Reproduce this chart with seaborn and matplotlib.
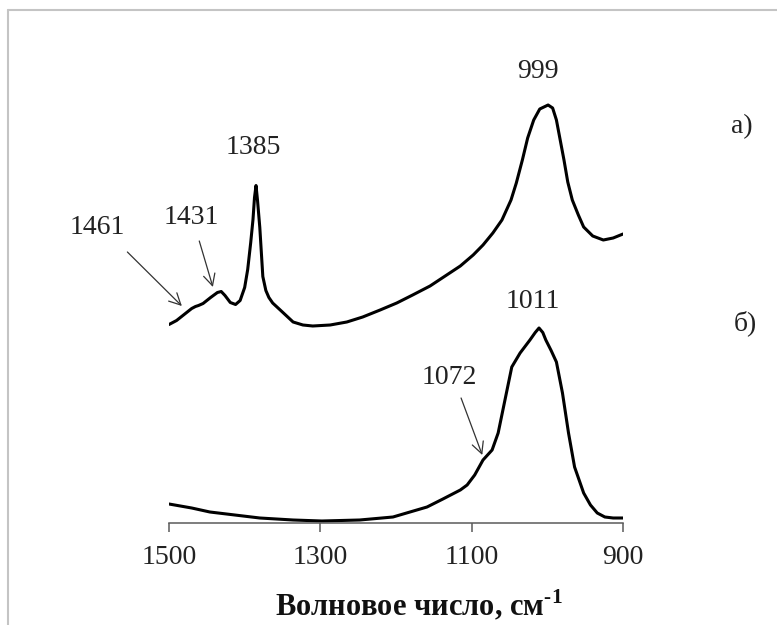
import matplotlib
matplotlib.use("Agg")
import matplotlib.pyplot as plt
from matplotlib.lines import Line2D
import seaborn as sns
import pandas as pd

# IR spectrum a) (wavenumber, cm-1 / absorbance, a.u.)
wavenumber_a = [1500, 1490, 1480, 1470, 1465, 1461, 1455, 1445, 1436, 1431,
                1426, 1419, 1412, 1406, 1400, 1396, 1392, 1389, 1387, 1385,
                1383, 1380, 1376, 1372, 1368, 1363, 1353, 1336, 1323, 1310,
                1287, 1265, 1244, 1221, 1199, 1178, 1155, 1133, 1115, 1098,
                1085, 1072, 1060, 1048, 1041, 1033, 1026, 1018, 1010, 999,
                993, 988, 983, 978, 973, 967, 959, 952, 940, 926,
                913, 900]
absorbance_a = [1.98, 2.02, 2.08, 2.14, 2.16, 2.17, 2.19, 2.25, 2.30, 2.31,
                2.27, 2.20, 2.18, 2.22, 2.35, 2.53, 2.80, 3.03, 3.25, 3.37,
                3.22, 2.95, 2.46, 2.32, 2.25, 2.195, 2.125, 2.005, 1.975, 1.965,
                1.975, 2.005, 2.055, 2.125, 2.195, 2.275, 2.365, 2.475, 2.565, 2.675,
                2.775, 2.895, 3.025, 3.225, 3.395, 3.625, 3.845, 4.025, 4.135, 4.175,
                4.145, 4.025, 3.825, 3.625, 3.405, 3.225, 3.075, 2.955, 2.865, 2.825,
                2.845, 2.885]

# IR spectrum б)
wavenumber_b = [1500, 1470, 1446, 1380, 1336, 1298, 1248, 1204, 1159, 1138,
                1115, 1106, 1096, 1085, 1073, 1065, 1056, 1047, 1036, 1023,
                1016, 1011, 1006, 1002, 995, 988, 980, 972, 964, 952,
                943, 934, 924, 913, 900]
absorbance_b = [0.185, 0.145, 0.105, 0.045, 0.025, 0.015, 0.025, 0.055, 0.155, 0.235,
                0.325, 0.375, 0.475, 0.625, 0.725, 0.895, 1.225, 1.555, 1.695, 1.825,
                1.90, 1.945, 1.90, 1.825, 1.72, 1.605, 1.295, 0.895, 0.555, 0.295,
                0.175, 0.095, 0.055, 0.045, 0.045]

x_ticks = [1500, 1300, 1100, 900]
x_label = "Волновое число, см$^{\\text{-1}}$"
panel_labels = ["а)", "б)"]

# peak labels: (text, x, y)
peak_labels = [("999", 1012, 4.505), ("1385", 1389, 3.745), ("1431", 1471, 3.045),
               ("1461", 1595, 2.955), ("1011", 1019, 2.205), ("1072", 1129, 1.455)]
# arrows: (tail x, tail y, tip x, tip y)
peak_arrows = [(1555, 2.705, 1483, 2.165), (1460, 2.815, 1442, 2.355),
               (1114, 1.245, 1086, 0.675)]

sns.set_style("white")
plt.rcParams["font.family"] = ["Liberation Serif", "DejaVu Serif"]
plt.rcParams["mathtext.fontset"] = "custom"
plt.rcParams["mathtext.rm"] = "Liberation Serif:bold"
plt.rcParams["mathtext.bf"] = "Liberation Serif:bold"

fig = plt.figure(figsize=(7.77, 6.25), dpi=100)
ax = fig.add_axes([169 / 777, 102.5 / 625, 454 / 777, 462.5 / 625])

df_a = pd.DataFrame({"wn": wavenumber_a, "A": absorbance_a})
df_b = pd.DataFrame({"wn": wavenumber_b, "A": absorbance_b})
sns.lineplot(data=df_a, x="wn", y="A", ax=ax, color="black", linewidth=2.2,
             sort=False, estimator=None)
sns.lineplot(data=df_b, x="wn", y="A", ax=ax, color="black", linewidth=2.2,
             sort=False, estimator=None)
for line in ax.lines:
    line.set_solid_joinstyle("round")
    line.set_solid_capstyle("round")

ax.set_xlim(1500, 900)
ax.set_ylim(0, 4.625)
ax.set_xticks(x_ticks)
ax.set_xticklabels([str(t) for t in x_ticks])
ax.set_yticks([])
ax.set_ylabel("")
for side in ["top", "right", "left"]:
    ax.spines[side].set_visible(False)
ax.spines["bottom"].set_color("#5a5a5a")
ax.spines["bottom"].set_linewidth(1.1)
ax.tick_params(axis="x", direction="out", length=6.5, width=1.1, color="#5a5a5a",
               labelsize=20, labelcolor="#222222", pad=10, bottom=True)

ax.set_xlabel(x_label, fontsize=22, fontweight="bold", color="#111111")
ax.xaxis.set_label_coords((419 - 169) / 454, (522.5 - 605) / 462.5)
ax.xaxis.label.set_va("center")

for text, x, y in peak_labels:
    ax.text(x, y, text, fontsize=20, ha="center", va="center", color="#222222",
            clip_on=False)

for x0, y0, x1, y1 in peak_arrows:
    ax.annotate("", xy=(x1, y1), xytext=(x0, y0), annotation_clip=False,
                arrowprops=dict(arrowstyle="->,head_length=0.55,head_width=0.28",
                                mutation_scale=15, color="#333333", lw=0.9,
                                shrinkA=0, shrinkB=0))

fig.text(742 / 777, 1 - 127 / 625, panel_labels[0], fontsize=20, ha="center",
         va="center", color="#222222")
fig.text(745 / 777, 1 - 323 / 625, panel_labels[1], fontsize=20, ha="center",
         va="center", color="#222222")

# thin grey frame along the top and left edges
fig.add_artist(Line2D([8 / 777, 8 / 777], [0, 1 - 10 / 625], transform=fig.transFigure,
                      color="#c4c4c4", lw=1.5))
fig.add_artist(Line2D([8 / 777, 1], [1 - 10 / 625, 1 - 10 / 625], transform=fig.transFigure,
                      color="#c4c4c4", lw=1.5))

fig.savefig("out.png", dpi=100)
